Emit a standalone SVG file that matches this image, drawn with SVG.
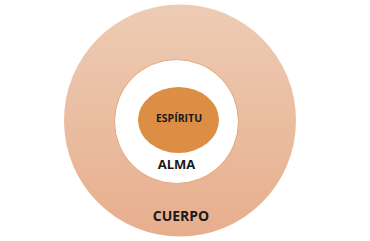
<svg xmlns="http://www.w3.org/2000/svg" width="370" height="241" viewBox="0 0 370 241">
<defs>
<linearGradient id="g" x1="0" y1="0" x2="0" y2="1">
<stop offset="0" stop-color="#EDCCB4"/>
<stop offset="1" stop-color="#E7AE8D"/>
</linearGradient>
<style>
.t{font-family:"Open Sans","Liberation Sans",sans-serif;font-weight:bold;fill:#1a1a1a;text-anchor:middle}
</style>
</defs>
<rect width="370" height="241" fill="#ffffff"/>
<g id="cuerpo">
<circle cx="180" cy="120.5" r="116" fill="url(#g)"/>
<text class="t" x="181" y="221" font-size="14">CUERPO</text>
</g>
<g id="alma">
<circle cx="176.5" cy="121.5" r="62" fill="#ffffff" stroke="#E3A67C" stroke-width="1"/>
<text class="t" x="176.5" y="169" font-size="13">ALMA</text>
</g>
<g id="espiritu">
<ellipse cx="178.5" cy="120" rx="40.5" ry="33" fill="#DC8E45"/>
<text class="t" x="179" y="122" font-size="10.5">ESPÍRITU</text>
</g>
<g id="connectors"/>
</svg>
